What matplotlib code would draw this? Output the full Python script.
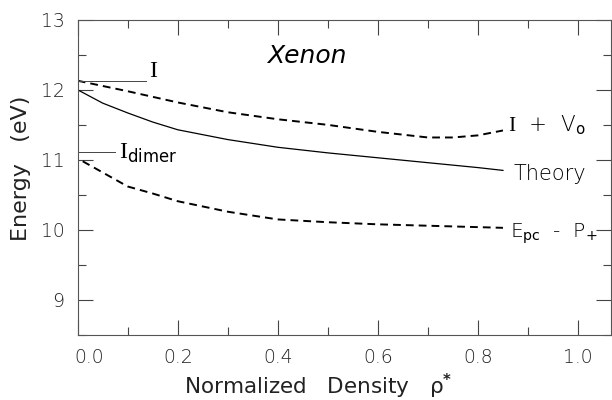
import numpy as np
import matplotlib
matplotlib.use("Agg")
import matplotlib.pyplot as plt
import matplotlib.transforms as mtransforms

plt.rcParams['font.family'] = ['DejaVu Sans']
plt.rcParams['font.weight'] = 200
plt.rcParams['mathtext.fontset'] = 'custom'
plt.rcParams['mathtext.rm'] = 'Liberation Serif:weight=normal'
plt.rcParams['mathtext.sf'] = 'DejaVu Sans:weight=normal'
plt.rcParams['mathtext.bf'] = 'DejaVu Sans:weight=bold'

# curves
rho_iv = [0.0, 0.1, 0.2, 0.3, 0.4, 0.5, 0.6, 0.7, 0.75, 0.8, 0.85]
e_iv = [12.13, 11.98, 11.82, 11.68, 11.58, 11.50, 11.40, 11.32, 11.32, 11.35, 11.42]

rho_th = [0.0, 0.05, 0.1, 0.15, 0.2, 0.3, 0.4, 0.5, 0.6, 0.7, 0.8, 0.85]
e_th = [12.0, 11.81, 11.67, 11.54, 11.43, 11.29, 11.18, 11.10, 11.03, 10.96, 10.89, 10.85]

rho_pc = [0.01, 0.05, 0.1, 0.15, 0.2, 0.3, 0.4, 0.5, 0.6, 0.7, 0.85]
e_pc = [10.98, 10.82, 10.62, 10.52, 10.41, 10.26, 10.15, 10.11, 10.08, 10.06, 10.03]

# gas phase reference levels
e_ion = 12.13
e_dimer = 11.115

xticks = [0.0, 0.2, 0.4, 0.6, 0.8, 1.0]
yticks = [9, 10, 11, 12, 13]

fig = plt.figure(figsize=(6.12, 4.0), dpi=100)
ax = fig.add_axes([0.127, 0.1625, 0.8714, 0.788])

ax.plot(rho_iv, e_iv, color='black', lw=1.4, ls=(0, (4, 2.6)))
ax.plot(rho_th, e_th, color='black', lw=0.9)
ax.plot(rho_pc, e_pc, color='black', lw=1.4, ls=(0, (4, 2.6)))

# short marker lines for I and I_dimer
ax.plot([0.0, 0.137], [e_ion, e_ion], color='#444444', lw=0.7)
ax.plot([0.0, 0.075], [e_dimer, e_dimer], color='#444444', lw=0.7)

ax.text(0.143, 12.19, r'$\mathrm{I}$', fontsize=17, va='baseline')
ax.text(0.082, 11.016, r'$\mathrm{I}_\mathsf{dimer}$', fontsize=17, va='baseline')
ax.text(0.861, 11.41, r'$\mathrm{I}$  +  V$_\mathsf{o}$', fontsize=15.5, va='baseline')
ax.text(0.871, 10.72, 'Theory', fontsize=15, va='baseline')
ax.text(0.865, 9.89, r'E$_\mathsf{pc}$  -  P$_\mathsf{+}$', fontsize=14.5, va='baseline')
ax.text(0.379, 12.385, 'Xenon', fontsize=18, style='italic', weight='normal', va='baseline')

ax.set_xlim(0, 1.066)
ax.set_ylim(8.5, 13)
ax.set_xticks(xticks)
ax.set_xticklabels(['%.1f' % t for t in xticks])
ax.set_xticks(np.arange(0.1, 1.05, 0.2), minor=True)
ax.set_yticks(yticks)
ax.set_yticks(np.arange(8.5, 13, 1.0), minor=True)

ax.tick_params(which='both', direction='in', top=True, right=True, width=0.8, color='#444444')
ax.tick_params(which='major', length=10.5, labelsize=13.5, pad=9.5, labelcolor='#222222')
ax.tick_params(which='minor', length=5.5)
for s in ax.spines.values():
    s.set_linewidth(0.8)
    s.set_color('#555555')

# the 0.0 label sits a little right of the corner
lab = ax.get_xticklabels()[0]
lab.set_transform(lab.get_transform() + mtransforms.ScaledTranslation(8 / 72, 0, fig.dpi_scale_trans))

ax.set_xlabel(r'Normalized   Density   ρ$^{\mathbf{*}}$', fontsize=15.5, color='#222222')
ax.set_ylabel('Energy   (eV)', fontsize=16, color='#222222')
ax.xaxis.set_label_coords(0.45, -0.118)
ax.yaxis.set_label_coords(-0.088, 0.53)

fig.savefig('out.png', dpi=100)
